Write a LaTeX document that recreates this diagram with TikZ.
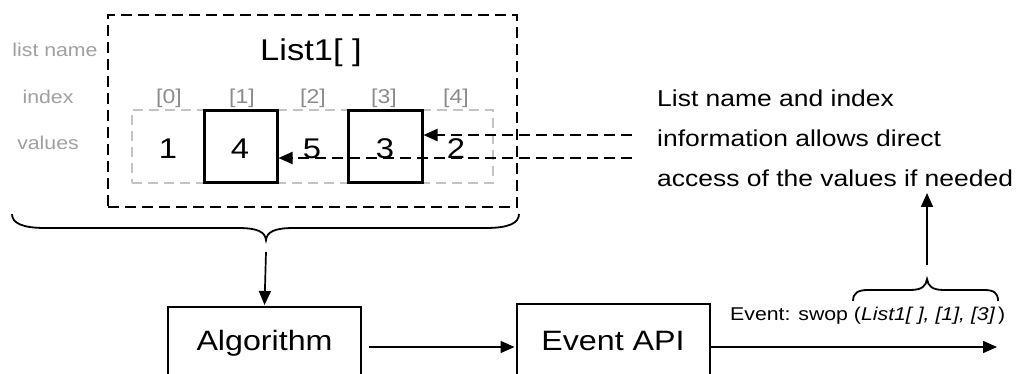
\documentclass[tikz,border=0pt]{standalone}
\usepackage{fontspec}
\setmainfont{Liberation Sans}[FakeStretch=1.15]
\usetikzlibrary{arrows.meta,calc}

\definecolor{labelgray}{HTML}{A0A0A0}
\definecolor{idxgray}{HTML}{8C8C8C}
\definecolor{rectgray}{HTML}{C4C4C4}

\begin{document}
\begin{tikzpicture}[x=1pt,y=-1pt,
  arrow/.style={line width=1.7pt,-{Triangle[length=14pt,width=12pt]}},
  dasharrow/.style={line width=2.2pt,dash pattern=on 11pt off 6pt,-{Triangle[length=14pt,width=12pt]}},
  sidelabel/.style={text=labelgray,font=\fontsize{18.5}{20}\selectfont,inner sep=0pt,anchor=base},
  idxlabel/.style={text=idxgray,font=\fontsize{20}{22}\selectfont,inner sep=0pt,anchor=base},
  val/.style={font=\fontsize{28.5}{30}\selectfont,inner sep=0pt,anchor=base},
  valbox/.style={draw,line width=3pt,minimum width=73pt,minimum height=72pt,inner sep=0pt},
  procbox/.style={draw,line width=2pt,minimum width=193pt,inner xsep=0pt,
    text height=20pt,text depth=50pt,font=\fontsize{28}{30}\selectfont,anchor=north},
  brace/.style={line width=1.8pt},
  note/.style={font=\fontsize{23}{25}\selectfont,inner sep=0pt,anchor=base west}]

\useasboundingbox (0,0) rectangle (1017,374);
\clip (0,0) rectangle (1017,374);

% list frame and the row of values
\node[draw,line width=2.2pt,dash pattern=on 11pt off 6pt,minimum width=409pt,minimum height=192pt,inner sep=0pt]
  (frame) at (312.5,111) {};
\node[draw=rectgray,line width=2pt,dash pattern=on 10pt off 6pt,minimum width=361pt,minimum height=73pt,inner sep=0pt]
  (row) at (312.5,146.5) {};

% row captions
\node[sidelabel] (lname) at (55,57) {list name};
\node[sidelabel] (lindex) at (48,104) {index};
\node[sidelabel] (lvalues) at (48,150) {values};

\node[font=\fontsize{30}{32}\selectfont,inner sep=0pt,anchor=base] (title) at (311,61) {List1[ ]};

% indices
\node[idxlabel] (i0) at (169,104) {[0]};
\node[idxlabel] (i1) at (242,104) {[1]};
\node[idxlabel] (i2) at (313,104) {[2]};
\node[idxlabel] (i3) at (384,104) {[3]};
\node[idxlabel] (i4) at (456,104) {[4]};

% swapped cells
\node[valbox] (b1) at (240.5,147) {};
\node[valbox,minimum width=74pt] (b3) at (385,147) {};

% values
\node[val] (v0) at (168,159) {1};
\node[val] (v1) at (240,159) {4};
\node[val] (v2) at (312,159) {5};
\node[val] (v3) at (385,159) {3};
\node[val] (v4) at (456,159) {2};

% direct access from the note
\coordinate (s3) at (632,135);
\coordinate (s1) at (632,158);
\draw[dasharrow] (s3) -- (b3.east |- s3);
\draw[dasharrow] (s1) -- (b1.east |- s1);

\node[note] (n1) at (657,107) {List name and index};
\node[note] (n2) at (657,147) {information allows direct};
\node[note] (n3) at (657,187) {access of the values if needed};

% processing chain
\node[procbox,inner ysep=23pt] (alg) at (264.5,306) {Algorithm};
\node[procbox,inner ysep=26pt] (api) at (613,303) {Event API};

% brace under the list
\coordinate (bigtip) at (266,240);
\draw[brace] (12,214) .. controls (12,223) and (22,228) .. (45,228) -- (238,228)
  .. controls (258,228) and (265,232) .. (bigtip)
  .. controls (267,232) and (274,228) .. (294,228) -- (486,228)
  .. controls (509,228) and (519,223) .. (519,214);
\draw[arrow] ($(bigtip)+(0,12)$) -- ($(alg.north)+(0,-1)$);

\draw[arrow] ($(alg.north east)+(7,41)$) -- ($(api.north west)+(-1,44)$);

\coordinate (out) at (997,347);
\draw[arrow] (api.north east |- out) -- (out);

\node[font=\fontsize{18.5}{20}\selectfont,inner sep=0pt,anchor=base west] (evlbl) at (730,320)
  {Event: swop (\textit{List1[ ], [1], [3]}\,)};

% brace over the event arguments
\coordinate (smalltip) at (927,279);
\draw[brace] (853,301) .. controls (853,293) and (858,290) .. (868,290) -- (910,290)
  .. controls (922,290) and (926,286) .. (smalltip)
  .. controls (928,286) and (932,290) .. (944,290) -- (984,290)
  .. controls (994,290) and (998,293) .. (998,301);
\coordinate (needed) at (927,193);
\draw[arrow] ($(smalltip)+(0,-14)$) -- (needed);

\end{tikzpicture}
\end{document}
